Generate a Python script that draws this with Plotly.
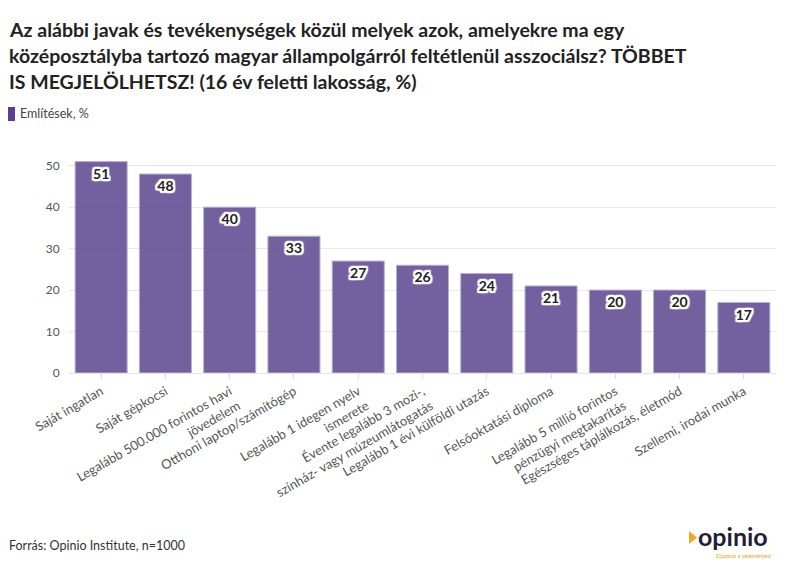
import plotly.graph_objects as go

categories = [
    "Saját ingatlan",
    "Saját gépkocsi",
    "Legalább 500.000 forintos havi<br>jövedelem",
    "Otthoni laptop/számítógép",
    "Legalább 1 idegen nyelv<br>ismerete",
    "Évente legalább 3 mozi-,<br>színház- vagy múzeumlátogatás",
    "Legalább 1 évi külföldi utazás",
    "Felsőoktatási diploma",
    "Legalább 5 millió forintos<br>pénzügyi megtakarítás",
    "Egészséges táplálkozás, életmód",
    "Szellemi, irodai munka",
]
values = [51, 48, 40, 33, 27, 26, 24, 21, 20, 20, 17]
series_name = "Említések, %"
title_lines = [
    "Az alábbi javak és tevékenységek közül melyek azok, amelyekre ma egy",
    "középosztályba tartozó magyar állampolgárról feltétlenül asszociálsz? TÖBBET",
    "IS MEGJELÖLHETSZ! (16 év feletti lakosság, %)",
]
source_text = "Forrás: Opinio Institute, n=1000"

FONT = "Lato"
OFF = 8  # page body margin
W, H = 795 - OFF, 575 - OFF
L, R, T, B = 69 - OFF, 19, 145 - OFF, 202

def px(x):
    return (x - OFF - L) / (W - L - R)

def py(y):
    return (H - B - (y - OFF)) / (H - T - B)

halo = ", ".join(f"{dx}px {dy}px 1px #fff" for dx in (-2, -1, 0, 1, 2) for dy in (-2, -1, 0, 1, 2) if (dx, dy) != (0, 0))

fig = go.Figure(go.Bar(
    x=categories, y=values, name=series_name,
    marker=dict(color="#644f95", opacity=0.9, line=dict(color="#b3a6d2", width=1)),
    text=[str(v) for v in values], textposition="inside", insidetextanchor="end",
    textfont=dict(family=FONT, size=14, color="#222222", weight="bold", shadow=halo),
    textangle=0, showlegend=False,
))

fig.update_layout(
    width=W, height=H,
    margin=dict(l=L, r=R, t=T, b=B),
    paper_bgcolor="white", plot_bgcolor="white",
    font=dict(family=FONT, color="#333333"),
    bargap=0.19,
    xaxis=dict(tickangle=-30, tickfont=dict(size=13, color="#555555"),
               ticks="outside", ticklen=5, tickcolor="#dddddd", showline=True,
               linecolor="#e6e6e6", automargin=False),
    yaxis=dict(range=[0, 55], dtick=10, tickfont=dict(size=12, color="#555555"),
               gridcolor="#e8e8e8", zeroline=False, ticks="outside", ticklen=6,
               tickcolor="rgba(0,0,0,0)", automargin=False),
)

for i, line in enumerate(title_lines):
    fig.add_annotation(
        xref="paper", yref="paper", x=px(7), y=py(29 + 26 * i), xanchor="left", yanchor="middle",
        showarrow=False, text=f"<b>{line}</b>",
        font=dict(family=FONT, size=19.5, color="#222222"),
    )

# legend drawn manually
fig.add_shape(type="rect", xref="paper", yref="paper",
              x0=px(7), x1=px(15), y0=py(121), y1=py(107),
              fillcolor="#5a3e92", line=dict(width=0))
fig.add_annotation(
    xref="paper", yref="paper", x=px(18), y=py(114), xanchor="left", yanchor="middle",
    showarrow=False, text=series_name, font=dict(family=FONT, size=12.5, color="#444444"),
)

fig.add_annotation(
    xref="paper", yref="paper", x=px(7), y=py(545), xanchor="left", yanchor="middle",
    showarrow=False, text=source_text, font=dict(family=FONT, size=12.5, color="#333333"),
)

# Logo
fig.add_annotation(
    xref="paper", yref="paper", x=px(733), y=py(536), xanchor="center", yanchor="middle",
    showarrow=False, text="<b>opinio</b>",
    font=dict(family=FONT, size=25, color="#1f1f38"),
)
fig.add_shape(type="path", xref="paper", yref="paper",
              path=f"M {px(689)} {py(531)} L {px(697)} {py(537.5)} L {px(689)} {py(544)} Z",
              fillcolor="#f5a623", line=dict(width=0))
fig.add_annotation(
    xref="paper", yref="paper", x=px(743), y=py(556), xanchor="center", yanchor="middle",
    showarrow=False, text="Díjazzuk a véleményed",
    font=dict(family=FONT, size=5.5, color="#f0a020"),
)

fig.write_html("out.html")
